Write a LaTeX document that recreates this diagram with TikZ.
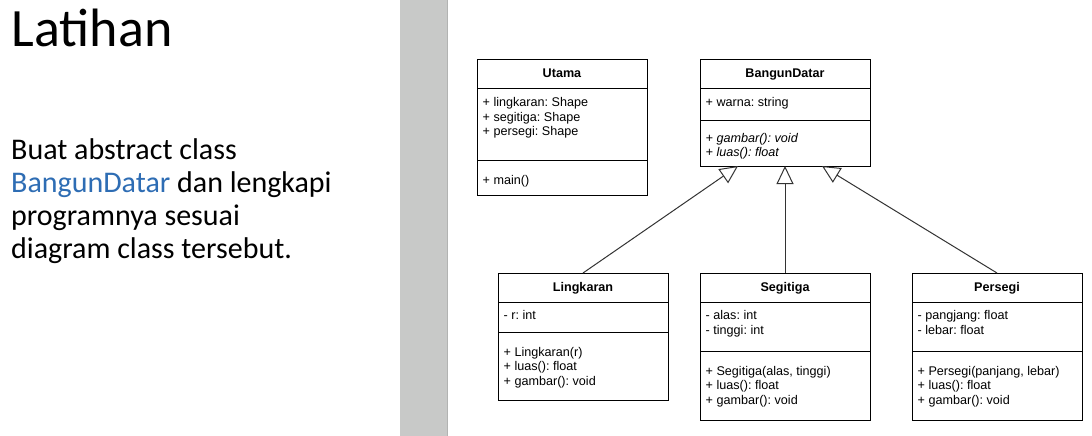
\documentclass[tikz,border=0pt]{standalone}
\usepackage{fontspec}
\setmainfont{Carlito}
\newfontfamily\umlfont{Liberation Sans}
\usepackage{tikz}
\usetikzlibrary{positioning,arrows.meta}
\frenchspacing
\definecolor{slideblue}{HTML}{2E6DB4}
\definecolor{bargray}{HTML}{C8C9C8}
\definecolor{baredge}{HTML}{B2B3B2}
\tikzset{
  slidetitle/.style={font=\fontsize{54}{60}\selectfont, inner sep=0pt, anchor=base west},
  slidetext/.style={font=\fontsize{30}{33}\selectfont, align=left, inner sep=0pt, anchor=base west},
  classhead/.style={draw=black, line width=1pt, outer sep=0pt, inner sep=0pt, minimum width=170pt,
                    minimum height=28pt, font=\umlfont\bfseries\fontsize{12.6}{14.5}\selectfont,
                    text height=9.5pt, text depth=2.5pt},
  classpart/.style={draw=black, line width=1pt, outer sep=0pt, inner sep=0pt, minimum width=170pt},
  members/.style={font=\umlfont\fontsize{12.6}{14.5}\selectfont, align=left, inner sep=0pt, anchor=base west},
  inherit/.style={-{Triangle[open, length=18pt, width=17pt]}, line width=1pt, draw=black!80},
}

\begin{document}
\begin{tikzpicture}[x=1pt,y=-1pt]
  \fill[white] (0,0) rectangle (1092,436);
  \useasboundingbox (0,0) rectangle (1092,436);
  % slide text (base anchor = last line)
  \node[slidetitle] (title) at (11.5,46.7) {Latihan};
  \node[slidetext] (task) at (11,258.3)
       {Buat abstract class\\\textcolor{slideblue}{BangunDatar} dan lengkapi\\programnya sesuai\\diagram class tersebut.};
  % divider bar
  \fill[bargray] (400,0) rectangle (447,436);
  \draw[baredge, line width=1.5pt] (447.7,0) -- (447.7,436);

  % top row classes
  \node[classhead, anchor=north west] (utama) at (477,60) {Utama};
  \node[classpart, minimum height=72pt, below=0pt of utama] (utamaA) {};
  \node[classpart, minimum height=35pt, below=0pt of utamaA] (utamaM) {};
  \node[classhead, anchor=north west] (bangun) at (700,60) {BangunDatar};
  \node[classpart, minimum height=32pt, below=0pt of bangun] (bangunA) {};
  \node[classpart, minimum height=46pt, below=0pt of bangunA] (bangunM) {};
  % bottom row classes
  \node[classhead, minimum height=29pt, anchor=north west] (lingkaran) at (498,273) {Lingkaran};
  \node[classpart, minimum height=30pt, below=0pt of lingkaran] (lingkaranA) {};
  \node[classpart, minimum height=68pt, below=0pt of lingkaranA] (lingkaranM) {};
  \node[classhead, minimum height=29pt, anchor=north west] (segitiga) at (700,273) {Segitiga};
  \node[classpart, minimum height=49pt, below=0pt of segitiga] (segitigaA) {};
  \node[classpart, minimum height=69pt, below=0pt of segitigaA] (segitigaM) {};
  \node[classhead, minimum height=29pt, anchor=north west] (persegi) at (912,273) {Persegi};
  \node[classpart, minimum height=49pt, below=0pt of persegi] (persegiA) {};
  \node[classpart, minimum height=69pt, below=0pt of persegiA] (persegiM) {};

  % members (placed by the baseline of their last line)
  \node[members] (utamaAtxt) at ([shift={(5.5pt,-47.5pt)}]utamaA.north west)
       {+ lingkaran: Shape\\+ segitiga: Shape\\+ persegi: Shape};
  \node[members] (utamaMtxt) at ([shift={(5.5pt,-24pt)}]utamaM.north west) {+ main()};
  \node[members] (bangunAtxt) at ([shift={(5.5pt,-18.5pt)}]bangunA.north west) {+ warna: string};
  \node[members, font=\umlfont\itshape\fontsize{12.6}{14.5}\selectfont] (bangunMtxt)
       at ([shift={(5.5pt,-36.5pt)}]bangunM.north west) {+ gambar(): void\\+ luas(): float};
  \node[members] (lingkaranAtxt) at ([shift={(5.5pt,-17.5pt)}]lingkaranA.north west) {- r: int};
  \node[members] (lingkaranMtxt) at ([shift={(5.5pt,-53pt)}]lingkaranM.north west)
       {+ Lingkaran(r)\\+ luas(): float\\+ gambar(): void};
  \node[members] (segitigaAtxt) at ([shift={(5.5pt,-32pt)}]segitigaA.north west)
       {- alas: int\\- tinggi: int};
  \node[members] (segitigaMtxt) at ([shift={(5.5pt,-53pt)}]segitigaM.north west)
       {+ Segitiga(alas, tinggi)\\+ luas(): float\\+ gambar(): void};
  \node[members] (persegiAtxt) at ([shift={(5.5pt,-32pt)}]persegiA.north west)
       {- pangjang: float\\- lebar: float};
  \node[members] (persegiMtxt) at ([shift={(5.5pt,-53pt)}]persegiM.north west)
       {+ Persegi(panjang, lebar)\\+ luas(): float\\+ gambar(): void};

  % inheritance
  \coordinate (toL) at ([xshift=-47pt]bangunM.south);
  \coordinate (toR) at ([xshift=37pt]bangunM.south);
  \draw[inherit] (lingkaran.north) -- (toL);
  \draw[inherit] (segitiga.north) -- (bangunM.south);
  \draw[inherit] (persegi.north) -- (toR);
\end{tikzpicture}
\end{document}
